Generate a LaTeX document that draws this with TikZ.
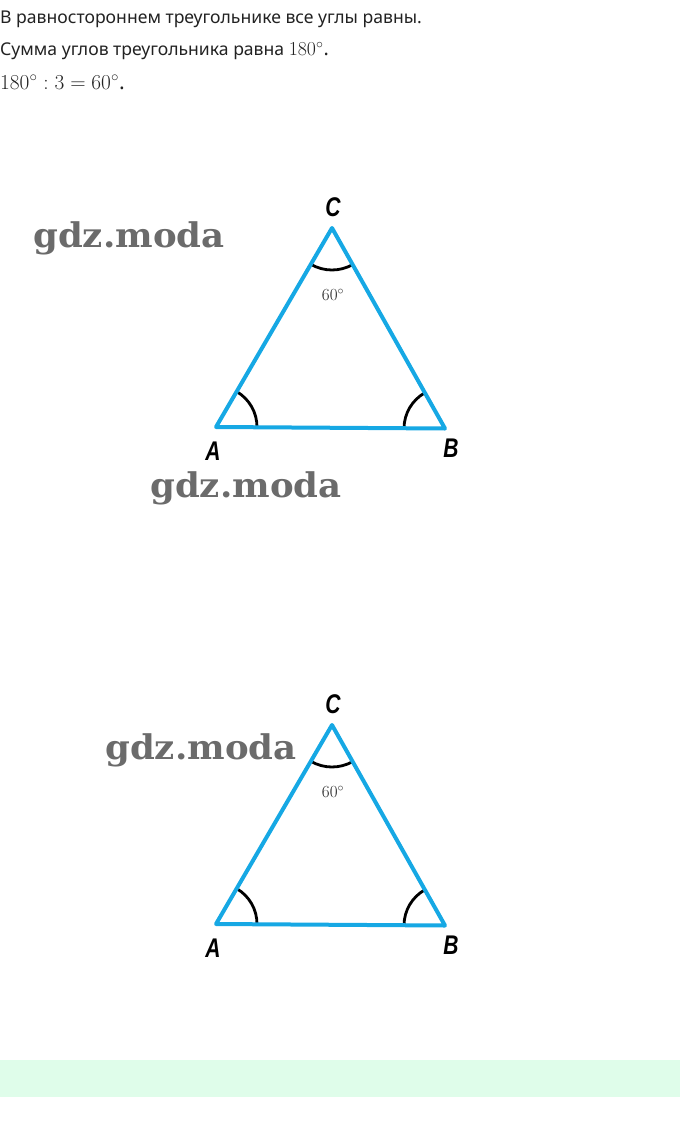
\documentclass[tikz,border=0pt]{standalone}
\usepackage{fix-cm}
\usepackage{fontspec}
\usepackage{graphicx}
\usetikzlibrary{angles}
\newfontfamily\ruFont{Noto Sans}
\newfontfamily\vertexFont{Liberation Sans}
\newfontfamily\markFont{DejaVu Serif}
\definecolor{sideblue}{RGB}{22,168,228}
\definecolor{barfill}{RGB}{223,253,234}
\definecolor{inkgray}{RGB}{34,34,34}
\begin{document}
\begin{tikzpicture}[x=1pt,y=-1pt,
        line/.style={anchor=base west, inner sep=0pt, text=inkgray, font=\ruFont\fontsize{17.6}{20}\selectfont},
        side/.style={draw=sideblue, line width=4pt, line join=round},
        arcmark/.style={draw=black, line width=2.8pt},
        vlabel/.style={inner sep=0pt, font=\vertexFont\bfseries\itshape\fontsize{27}{27}\selectfont},
        degree/.style={inner sep=0pt, text=inkgray, font=\fontsize{17}{17}\selectfont},
        watermark/.style={anchor=base west, inner sep=0pt, text=black!58, font=\markFont\bfseries\fontsize{34}{34}\selectfont}]
        \useasboundingbox (0,0) rectangle (680,1132);

        % text above
        \node[line] (l1) at (0,24) {В равностороннем треугольнике все углы равны.};
        \node[line] (l2) at (0,56) {Сумма углов треугольника равна \fontsize{19.8}{21}\selectfont$180^\circ$.};
        \node[line] (l3) at (0,89) {\fontsize{21.3}{22}\selectfont$180^\circ:3=60^\circ$.};

        % two copies of the triangle
        \foreach \i/\dy in {1/0,2/497}{
                \coordinate (A\i) at (216,427+\dy);
                \coordinate (B\i) at (445,428.5+\dy);
                \coordinate (C\i) at (332,228+\dy);

                \pic[arcmark, angle radius=41pt] {angle=B\i--A\i--C\i};
                \pic[arcmark, angle radius=41pt] {angle=C\i--B\i--A\i};
                \pic[arcmark, angle radius=42pt] {angle=A\i--C\i--B\i};

                \draw[side] (A\i) -- (B\i) -- (C\i) -- cycle;

                \node[vlabel] (a\i) at (213,451+\dy) {\scalebox{0.78}[1]{A}};
                \node[vlabel] (b\i) at (451,448+\dy) {\scalebox{0.78}[1]{B}};
                \node[vlabel] (c\i) at (333,207+\dy) {\scalebox{0.78}[1]{C}};
                \node[degree] (g\i) at (333,295+\dy) {$60^\circ$};
        }

        % watermarks
        \node[watermark] (w1) at (33,247) {\scalebox{1.045}[1]{gdz.moda}};
        \node[watermark] (w2) at (150,497) {\scalebox{1.045}[1]{gdz.moda}};
        \node[watermark] (w3) at (105,759) {\scalebox{1.045}[1]{gdz.moda}};

        % bar at the bottom
        \fill[barfill] (0,1060) rectangle (680,1097);
\end{tikzpicture}
\end{document}
